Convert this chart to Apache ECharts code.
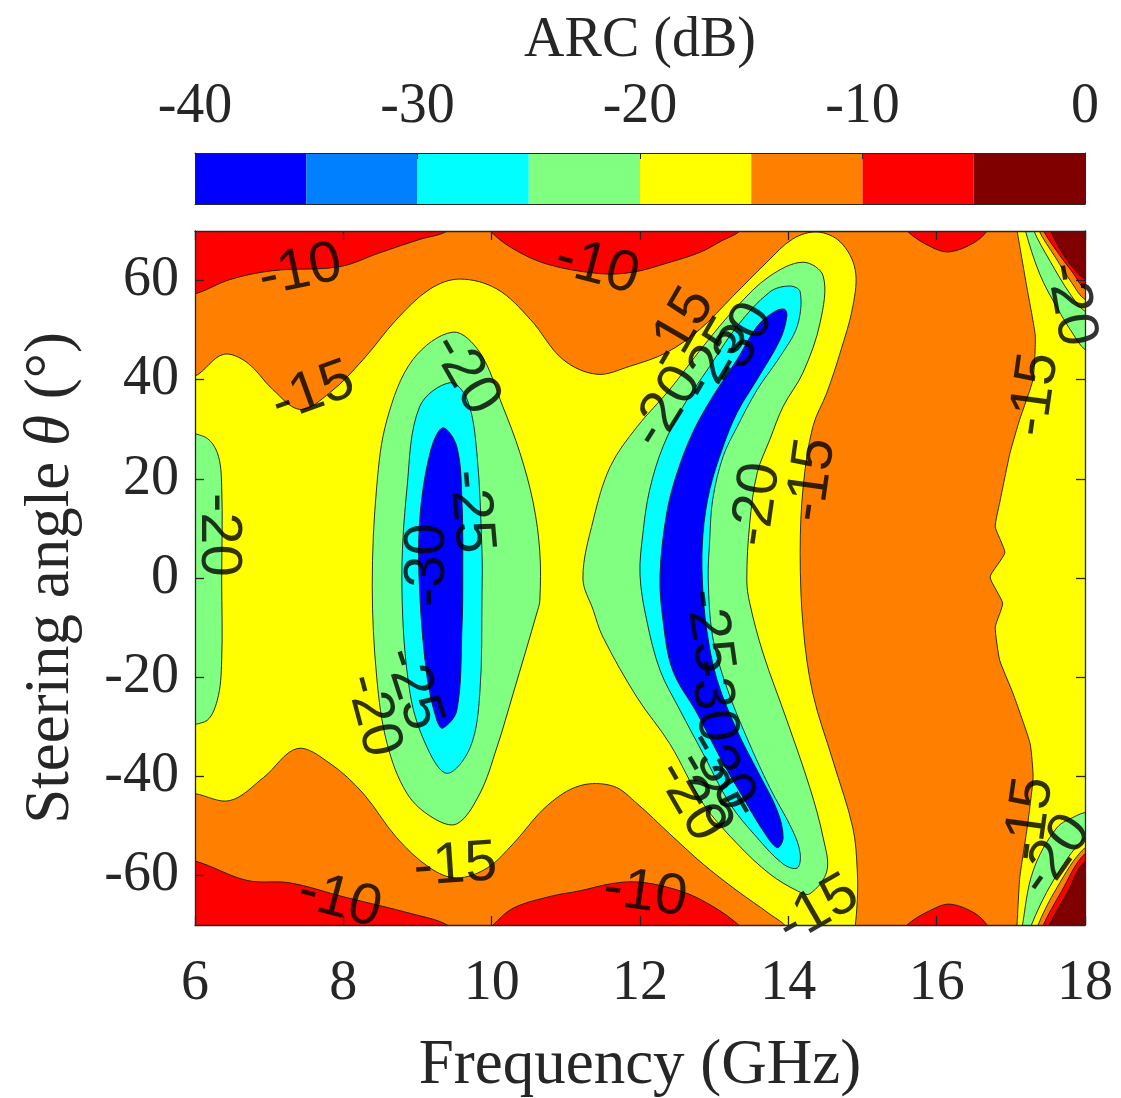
<!DOCTYPE html>
<html><head><meta charset="utf-8">
<script src="https://cdn.jsdelivr.net/npm/echarts@6/dist/echarts.min.js"></script>
<style>html,body{margin:0;padding:0;background:#fff}#c{width:1121px;height:1098px}</style>
</head><body><div id="c"></div>
<script>
// ---- axis / level data ----
const freqTicks = [6, 8, 10, 12, 14, 16, 18];
const angleTicks = [-60, -40, -20, 0, 20, 40, 60];
const arcLevels = [-40, -35, -30, -25, -20, -15, -10, -5, 0];
const levelColors = ['#0000ff', '#0080ff', '#00ffff', '#80ff80', '#ffff00', '#ff8000', '#ff0000', '#800000'];

// ---- contour regions: [frequency GHz, angle deg] ----
const bandOrangeBg = [[5.5,-73],[18.5,-73],[18.5,73],[5.5,73]];
const redTopLeft = [[5.7,57.0],[6.0,57.3],[6.47,60.2],[7.05,62.0],[7.95,62.8],[8.49,65.6],[9.03,68.3],[9.40,70.0],[9.55,73],[5.7,73]];
const redTopMid = [[9.85,73],[9.98,70.0],[10.29,66.4],[10.75,63.3],[11.46,61.4],[11.91,61.7],[12.36,63.5],[12.81,65.7],[13.10,68.0],[13.35,70.0],[13.5,73]];
const redTopRight = [[15.5,73],[15.6,70.0],[15.95,66.6],[16.18,65.8],[16.5,67.6],[16.68,70.0],[16.78,73]];
const redBotLeft = [[5.7,-57.0],[6.0,-57.1],[6.70,-61.0],[7.28,-61.5],[8.0,-64.3],[8.94,-67.8],[9.40,-70.0],[9.55,-73],[5.7,-73]];
const redBotMid = [[9.85,-73],[10.02,-70.0],[10.29,-66.6],[10.8,-64.2],[11.19,-63.1],[11.6,-61.7],[11.95,-61.3],[12.4,-62.5],[12.81,-64.8],[13.3,-69.6],[13.45,-73]];
const redBotRight = [[15.5,-73],[15.6,-70.0],[15.95,-66.8],[16.18,-65.8],[16.5,-67.5],[16.68,-70.0],[16.78,-73]];
const yellowMain = [[5.7,40.0],[6.0,40.7],[6.38,45.1],[6.70,43.5],[7.05,38.0],[7.42,34.0],[7.82,37.4],[8.27,44.1],[8.72,52.2],[9.17,58.3],[9.57,60.3],[10.07,58.3],[10.52,52.2],[10.96,44.1],[11.42,41.1],[11.86,42.7],[12.36,45.5],[12.81,50.2],[13.25,56.8],[13.71,63.7],[14.06,68.4],[14.39,69.8],[14.70,67.8],[14.90,62.3],[14.87,54.8],[14.70,45.5],[14.52,37.4],[14.33,30.5],[14.20,18.4],[14.16,5.1],[14.20,-9.9],[14.33,-23.3],[14.60,-36.8],[14.87,-50.4],[14.93,-59.1],[14.93,-65.1],[14.90,-70.6],[14.88,-73],[13.95,-73],[13.98,-70.6],[13.75,-67.8],[13.31,-63.1],[12.85,-57.7],[12.40,-51.6],[11.96,-45.5],[11.64,-42.0],[11.19,-41.9],[10.75,-45.9],[10.29,-53.6],[9.94,-58.5],[9.53,-60.5],[9.17,-58.5],[8.72,-52.4],[8.27,-43.5],[7.82,-37.4],[7.38,-34.4],[6.92,-40.3],[6.47,-44.9],[6.0,-43.5],[5.7,-43.0]];
const yellowRight = [[17.05,73],[17.08,70.4],[17.22,58.3],[17.33,48.8],[17.30,40.1],[17.12,32.0],[16.99,25.3],[16.85,15.2],[16.79,10.3],[16.92,5.1],[16.72,0.2],[16.89,-5.1],[16.79,-9.9],[16.85,-16.6],[17.03,-23.3],[17.26,-33.4],[17.30,-40.3],[17.22,-50.4],[17.12,-60.5],[17.08,-70.6],[17.05,-73],[18.5,-73],[18.5,73]];
const greenLeftEdge = [[5.7,28.5],[6.11,28.6],[6.30,25.3],[6.36,18.4],[6.36,-0.4],[6.36,-16.6],[6.30,-24.7],[6.13,-29.0],[5.7,-28.3]];
const greenLeft = [[9.48,49.6],[9.84,45.5],[10.15,34.6],[10.38,25.3],[10.56,15.2],[10.65,5.1],[10.65,-4.5],[10.62,-6.5],[10.29,-23.3],[10.07,-34.2],[9.84,-43.5],[9.53,-49.6],[9.21,-48.4],[8.86,-43.5],[8.59,-33.4],[8.45,-20.0],[8.39,-1.5],[8.45,18.4],[8.59,32.0],[8.94,44.1]];
const cyanLeft = [[9.44,39.4],[9.67,36.0],[9.80,25.3],[9.87,5.1],[9.87,-3.0],[9.84,-23.3],[9.71,-34.2],[9.40,-39.4],[9.13,-34.2],[8.90,-23.3],[8.79,-2.0],[8.86,18.4],[9.03,34.6]];
const blueLeft = [[9.34,30.3],[9.53,26.5],[9.60,15.2],[9.61,-0.4],[9.60,-9.9],[9.53,-26.7],[9.34,-30.3],[9.26,-28.7],[9.13,-20.0],[9.03,-3.0],[9.03,11.7],[9.17,25.3]];
const greenDiag = [[14.20,63.7],[14.47,60.9],[14.43,51.6],[14.20,41.5],[13.93,34.6],[13.75,27.9],[13.58,21.2],[13.48,11.1],[13.44,-0.4],[13.48,-5.1],[13.66,-15.2],[13.98,-28.7],[14.29,-42.3],[14.47,-52.4],[14.52,-59.1],[14.29,-63.7],[14.12,-63.1],[13.75,-59.7],[13.31,-53.6],[12.85,-45.5],[12.40,-33.4],[11.96,-24.1],[11.50,-11.9],[11.37,-6.5],[11.23,0.0],[11.37,11.7],[11.60,22.5],[11.96,30.5],[12.40,38.0],[12.85,46.7],[13.31,54.8],[13.75,60.9]];
const cyanDiag = [[14.02,58.9],[14.16,57.7],[14.12,50.8],[13.89,44.7],[13.58,38.0],[13.31,30.5],[13.12,24.5],[12.98,15.8],[12.94,7.7],[12.92,-0.4],[12.98,-11.9],[13.17,-22.1],[13.44,-32.2],[13.75,-42.3],[14.06,-51.0],[14.16,-55.6],[14.12,-58.5],[13.93,-57.7],[13.58,-52.4],[13.21,-45.5],[12.85,-35.4],[12.54,-26.7],[12.27,-18.6],[12.09,-8.5],[12.00,0.6],[12.04,9.1],[12.13,17.8],[12.31,26.5],[12.58,34.6],[12.94,42.7],[13.31,50.8],[13.75,57.7]];
const blueDiag = [[13.95,54.2],[13.98,52.8],[13.89,48.1],[13.58,40.1],[13.31,33.4],[13.12,26.5],[12.94,17.8],[12.85,9.1],[12.84,-0.4],[12.90,-10.5],[13.04,-20.6],[13.31,-30.8],[13.58,-38.8],[13.85,-46.9],[13.93,-52.4],[13.85,-54.4],[13.66,-51.0],[13.39,-44.3],[13.08,-36.2],[12.77,-27.3],[12.44,-18.6],[12.31,-8.5],[12.27,0.6],[12.36,13.1],[12.50,21.2],[12.71,29.3],[12.98,36.6],[13.31,44.1],[13.58,50.8],[13.82,53.8]];
// top-right corner bands (green, yellow, orange, red, dark red)
const cornerTopGreen = [[17.17,73],[17.19,70.4],[17.39,61.3],[17.62,54.6],[17.84,49.2],[18.0,46.1],[18.3,44],[18.3,73]];
const cornerTopYellow = [[17.28,73],[17.30,70.4],[17.53,63.9],[17.80,57.3],[18.0,53.8],[18.3,52],[18.3,73]];
const cornerTopOrange = [[17.35,73],[17.37,70.4],[17.60,64.7],[17.82,59.6],[18.0,56.2],[18.3,55],[18.3,73]];
const cornerTopRed = [[17.41,73],[17.43,70.4],[17.64,65.5],[17.84,61.5],[18.0,58.3],[18.3,57],[18.3,73]];
const cornerTopDark = [[17.51,73],[17.53,70.4],[17.66,66.4],[17.82,62.9],[18.0,60.3],[18.3,59],[18.3,73]];
// bottom-right corner bands
const cornerBotGreen = [[17.13,-73],[17.15,-70.6],[17.30,-59.1],[17.62,-50.4],[17.89,-47.9],[18.0,-47.3],[18.3,-46],[18.3,-73]];
const cornerBotYellow = [[17.24,-73],[17.26,-70.6],[17.57,-61.1],[18.0,-52.4],[18.3,-51],[18.3,-73]];
const cornerBotOrange = [[17.33,-73],[17.35,-70.6],[17.62,-62.5],[18.0,-54.4],[18.3,-53],[18.3,-73]];
const cornerBotRed = [[17.40,-73],[17.42,-70.6],[17.68,-63.3],[18.0,-55.6],[18.3,-54.5],[18.3,-73]];
const cornerBotDark = [[17.48,-73],[17.50,-70.6],[17.76,-63.5],[18.0,-57.1],[18.3,-56],[18.3,-73]];

// ---- contour labels: [frequency, angle, text, rotation deg] ----
const contourLabels = [
  [7.42, 61.9, '-10', 12], [11.42, 62.7, '-10', -15], [7.59, 37.4, '-15', 20],
  [9.64, 41.1, '-20', -60], [9.71, 13.4, '-25', -85], [9.14, 2.6, '-30', 90],
  [6.31, 8.7, '-20', -90], [8.93, -22.3, '-25', -72], [8.39, -27.7, '-20', -75],
  [9.51, -58.1, '-15', 4], [7.95, -65.1, '-10', -15], [12.07, -63.7, '-10', -8],
  [14.40, -67.0, '-15', 30],
  [12.54, 50.2, '-15', 60], [12.36, 34.4, '-20', 58], [13.01, 44.1, '-25', 60], [13.35, 47.1, '-30', 62],
  [13.58, 14.8, '-20', 82], [14.32, 19.8, '-15', 82],
  [12.92, -10.7, '-25', -82], [12.97, -24.7, '-30', -82],
  [12.67, -44.9, '-20', -60], [12.94, -42.9, '-25', -60], [13.08, -38.8, '-30', -60],
  [17.33, 37.0, '-15', 82], [17.80, 55.2, '-20', -80],
  [17.26, -48.6, '-15', 82], [17.60, -56.0, '-20', 55]
];

const C = levelColors;
const shapes = [
  {pts: bandOrangeBg, color: C[5], stroke: false},
  {pts: redTopLeft, color: C[6]}, {pts: redTopMid, color: C[6]}, {pts: redTopRight, color: C[6]},
  {pts: redBotLeft, color: C[6]}, {pts: redBotMid, color: C[6]}, {pts: redBotRight, color: C[6]},
  {pts: yellowMain, color: C[4]}, {pts: yellowRight, color: C[4], smooth: 0.15},
  {pts: greenLeftEdge, color: C[3]}, {pts: greenLeft, color: C[3]}, {pts: greenDiag, color: C[3]},
  {pts: cyanLeft, color: C[2]}, {pts: cyanDiag, color: C[2]},
  {pts: blueLeft, color: C[0]}, {pts: blueDiag, color: C[0]},
  {pts: cornerTopGreen, color: C[3]}, {pts: cornerTopYellow, color: C[4]}, {pts: cornerTopOrange, color: C[5]},
  {pts: cornerTopRed, color: C[6]}, {pts: cornerTopDark, color: C[7]},
  {pts: cornerBotGreen, color: C[3]}, {pts: cornerBotYellow, color: C[4]}, {pts: cornerBotOrange, color: C[5]},
  {pts: cornerBotRed, color: C[6]}, {pts: cornerBotDark, color: C[7]}
];

const AX = '#262626';
const SERIF = 'Liberation Serif';
const chart = echarts.init(document.getElementById('c'), null, {renderer: 'canvas'});
const lineStyle = {color: AX, width: 1.3};
const thin = {color: AX, width: 1};
chart.setOption({
  animation: false,
  grid: [
    {left: 195, top: 231, width: 890, height: 694, outerBoundsMode: 'none', containLabel: false},
    {left: 195, top: 153, width: 890, height: 51, outerBoundsMode: 'none', containLabel: false}
  ],
  xAxis: [
    {gridIndex: 0, type: 'value', min: 6, max: 18, interval: 2, position: 'bottom', z: 10,
     axisLine: {show: true, onZero: false, lineStyle}, axisTick: {show: true, inside: true, length: 9, lineStyle},
     axisLabel: {fontSize: 56, fontFamily: SERIF, color: AX, margin: 31},
     splitLine: {show: false},
     name: 'Frequency (GHz)', nameLocation: 'middle', nameGap: 110,
     nameTextStyle: {fontSize: 63, fontFamily: SERIF, color: AX}},
    {gridIndex: 0, type: 'value', min: 6, max: 18, interval: 2, position: 'top', z: 10,
     axisLine: {show: true, onZero: false, lineStyle}, axisTick: {show: true, inside: true, length: 9, lineStyle},
     axisLabel: {show: false}, splitLine: {show: false}},
    {gridIndex: 1, type: 'value', min: arcLevels[0], max: arcLevels[arcLevels.length - 1], interval: 10, position: 'top', z: 10,
     axisLine: {show: true, onZero: false, lineStyle: thin}, axisTick: {show: true, inside: true, length: 6, lineStyle: thin},
     axisLabel: {fontSize: 56, fontFamily: SERIF, color: AX, margin: 18},
     splitLine: {show: false},
     name: 'ARC (dB)', nameLocation: 'middle', nameGap: 84,
     nameTextStyle: {fontSize: 56, fontFamily: SERIF, color: AX}},
    {gridIndex: 1, type: 'value', min: arcLevels[0], max: arcLevels[arcLevels.length - 1], position: 'bottom', z: 10,
     axisLine: {show: true, onZero: false, lineStyle: thin}, axisTick: {show: false}, axisLabel: {show: false}, splitLine: {show: false}}
  ],
  yAxis: [
    {gridIndex: 0, type: 'value', min: -70, max: 70, position: 'left', z: 10,
     axisLine: {show: true, onZero: false, lineStyle},
     axisTick: {show: true, inside: true, length: 9, lineStyle, customValues: angleTicks},
     axisLabel: {fontSize: 56, fontFamily: SERIF, color: AX, margin: 16, customValues: angleTicks},
     splitLine: {show: false},
     name: 'Steering angle {i|θ} (°)', nameLocation: 'middle', nameGap: 112,
     nameTextStyle: {fontSize: 63, fontFamily: SERIF, color: AX,
       rich: {i: {fontSize: 63, fontFamily: SERIF, fontStyle: 'italic', color: AX}}}},
    {gridIndex: 0, type: 'value', min: -70, max: 70, position: 'right', z: 10,
     axisLine: {show: true, onZero: false, lineStyle},
     axisTick: {show: true, inside: true, length: 9, lineStyle, customValues: angleTicks},
     axisLabel: {show: false}, splitLine: {show: false}},
    {gridIndex: 1, type: 'value', min: 0, max: 1, position: 'left', z: 10,
     axisLine: {show: true, onZero: false, lineStyle: thin}, axisTick: {show: false}, axisLabel: {show: false}, splitLine: {show: false}},
    {gridIndex: 1, type: 'value', min: 0, max: 1, position: 'right', z: 10,
     axisLine: {show: true, onZero: false, lineStyle: thin}, axisTick: {show: false}, axisLabel: {show: false}, splitLine: {show: false}}
  ],
  series: [
    {
      type: 'custom', xAxisIndex: 0, yAxisIndex: 0, clip: true, silent: true, z: 2,
      data: shapes.map((s, i) => [i]),
      renderItem: function (params, api) {
        const s = shapes[params.dataIndex];
        const pts = s.pts.map(p => api.coord(p));
        return {
          type: 'polygon', z2: params.dataIndex,
          shape: {points: pts, smooth: s.smooth !== undefined ? s.smooth : 0.35},
          style: {fill: s.color, stroke: s.stroke === false ? null : '#1a1a1a', lineWidth: 0.9}
        };
      }
    },
    {
      type: 'custom', xAxisIndex: 2, yAxisIndex: 2, silent: true, z: 2,
      data: levelColors.map((c, i) => [arcLevels[i], arcLevels[i + 1]]),
      renderItem: function (params, api) {
        const a = api.coord([api.value(0), 1]);
        const b = api.coord([api.value(1), 0]);
        return {type: 'rect', shape: {x: a[0], y: a[1], width: b[0] - a[0], height: b[1] - a[1]},
                style: {fill: levelColors[params.dataIndex]}};
      }
    },
    {
      type: 'scatter', xAxisIndex: 0, yAxisIndex: 0, silent: true, z: 5,
      symbol: 'circle', symbolSize: 1, itemStyle: {color: 'transparent'},
      data: contourLabels.map(l => ({value: [l[0], l[1]], text: l[2], label: {rotate: l[3]}})),
      label: {show: true, position: 'inside', fontSize: 58, fontFamily: 'Liberation Sans', color: '#000',
              formatter: p => p.data.text}
    }
  ]
});
</script>
</body></html>
